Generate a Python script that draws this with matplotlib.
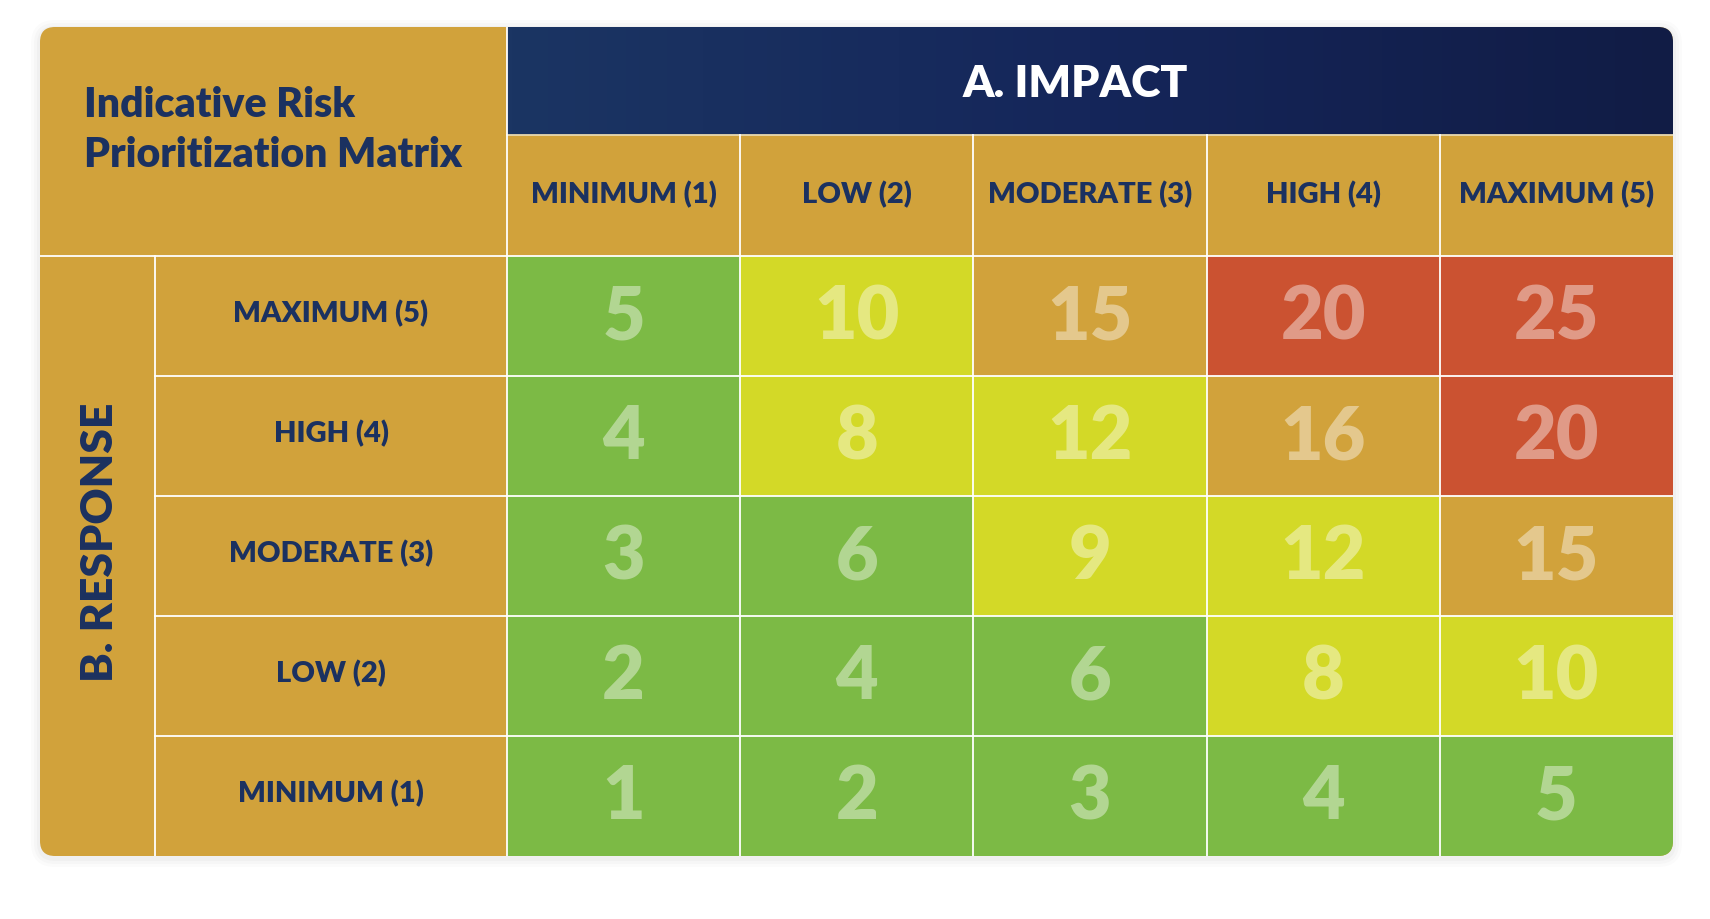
import numpy as np
import matplotlib.pyplot as plt
from matplotlib.patches import Rectangle, FancyBboxPatch

plt.rcParams['font.family'] = ['Lato', 'DejaVu Sans']

# data
title_lines = ['Indicative Risk', 'Prioritization Matrix']
impact_title = 'A. IMPACT'
response_title = 'B. RESPONSE'
impact_labels = ['MINIMUM (1)', 'LOW (2)', 'MODERATE (3)', 'HIGH (4)', 'MAXIMUM (5)']
response_labels = ['MAXIMUM (5)', 'HIGH (4)', 'MODERATE (3)', 'LOW (2)', 'MINIMUM (1)']
scores = [
    [5, 10, 15, 20, 25],
    [4, 8, 12, 16, 20],
    [3, 6, 9, 12, 15],
    [2, 4, 6, 8, 10],
    [1, 2, 3, 4, 5],
]

# colours
gold = '#D1A23B'
navy_text = '#1B3160'
green = '#7CBA45'
yellow = '#D3D927'
red = '#CB5231'


def cell_color(v):
    if v >= 20:
        return red
    if v >= 15:
        return gold
    if v >= 8:
        return yellow
    return green


# layout in pixels
W, H = 1710, 919
left, right, top, bottom = 40, 1673, 27, 856
x_inner = 155
x_grid = 507
y_band = 135
y_head = 256
ncol = len(impact_labels)
nrow = len(response_labels)
cw = (right - x_grid) / ncol
rh = (bottom - y_head) / nrow

fig = plt.figure(figsize=(W / 100, H / 100), dpi=100)
ax = fig.add_axes([0, 0, 1, 1])
ax.set_xlim(0, W)
ax.set_ylim(H, 0)
ax.axis('off')

# soft shadow
for i, a in enumerate([0.025, 0.02, 0.015]):
    d = 3 + i * 3
    sh = FancyBboxPatch((left - d, top - d + 2), right - left + 2 * d, bottom - top + 2 * d,
                        boxstyle='round,pad=0,rounding_size=%d' % (15 + d),
                        fc='black', ec='none', alpha=a, zorder=0)
    ax.add_patch(sh)

clip = FancyBboxPatch((left, top), right - left, bottom - top,
                      boxstyle='round,pad=0,rounding_size=15', fc='none', ec='none')
ax.add_patch(clip)

patches = []
# gold base
patches.append(ax.add_patch(Rectangle((left, top), right - left, bottom - top, fc=gold, ec='none', zorder=1)))

# blue gradient band
grad = np.linspace(0, 1, 256)[None, :]
img = ax.imshow(grad, cmap=plt.matplotlib.colors.LinearSegmentedColormap.from_list(
    'band', ['#1B3563', '#15265A', '#111C45']),
    extent=(x_grid, right, y_band, top), aspect='auto', zorder=2)
img.set_clip_path(clip)

# score cells
for r in range(nrow):
    for c in range(ncol):
        v = scores[r][c]
        x0 = x_grid + c * cw
        y0 = y_head + r * rh
        patches.append(ax.add_patch(Rectangle((x0, y0), cw, rh, fc=cell_color(v), ec='none', zorder=2)))
        ax.text(x0 + cw / 2, y0 + rh / 2 + 2, str(v), ha='center', va='center',
                fontsize=53, fontweight='heavy', color='white', alpha=0.42, zorder=4)

for p in patches:
    p.set_clip_path(clip)

# white grid lines
lw = 1.3
lines = []
lines.append(ax.plot([left, right], [y_head, y_head], color='white', lw=lw, zorder=3)[0])
lines.append(ax.plot([x_grid, right], [y_band, y_band], color='#E8D9B0', lw=lw, zorder=3)[0])
lines.append(ax.plot([x_grid, x_grid], [top, bottom], color='white', lw=lw, zorder=3)[0])
lines.append(ax.plot([x_inner, x_inner], [y_head, bottom], color='white', lw=lw, zorder=3)[0])
for c in range(1, ncol):
    xx = x_grid + c * cw
    lines.append(ax.plot([xx, xx], [y_band, bottom], color='white', lw=lw, zorder=3)[0])
for r in range(1, nrow):
    yy = y_head + r * rh
    lines.append(ax.plot([x_inner, right], [yy, yy], color='white', lw=lw, zorder=3)[0])
for ln in lines:
    ln.set_clip_path(clip)

# texts
for i, t in enumerate(title_lines):
    ax.text(84, 117 + i * 50, t, ha='left', va='baseline', fontsize=29.5,
            fontweight='heavy', color=navy_text, zorder=5)

ax.text(1075, 84, impact_title, ha='center', va='center', fontsize=32,
        fontweight='heavy', color='white', zorder=5)

for c, lab in enumerate(impact_labels):
    ax.text(x_grid + c * cw + cw / 2, 195, lab, ha='center', va='center', fontsize=21,
            fontweight='heavy', color=navy_text, zorder=5)

for r, lab in enumerate(response_labels):
    ax.text((x_inner + x_grid) / 2, y_head + r * rh + rh / 2 - 2, lab, ha='center', va='center',
            fontsize=21, fontweight='heavy', color=navy_text, zorder=5)

ax.text(100, 542, response_title, ha='center', va='center', rotation=90, fontsize=32,
        fontweight='heavy', color=navy_text, zorder=5)

fig.savefig('out.png', dpi=100, facecolor='white')
